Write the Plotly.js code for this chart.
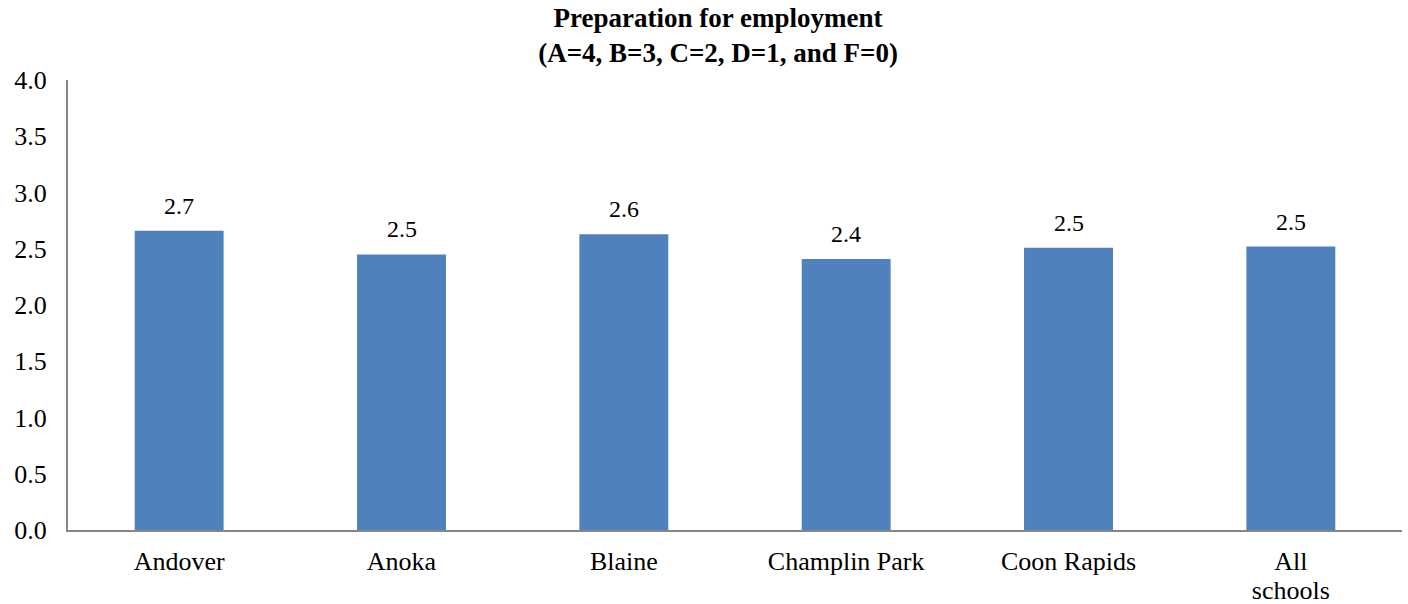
<!DOCTYPE html>
<html>
<head>
<meta charset="utf-8">
<script src="https://cdn.plot.ly/plotly-3.0.1.min.js"></script>
<style>html,body{margin:0;padding:0;background:#fff;}#chart{width:1408px;height:604px;}</style>
</head>
<body>
<div id="chart"></div>
<script>
const categories = ["Andover", "Anoka", "Blaine", "Champlin Park", "Coon Rapids", "All<br>schools"];
const values = [2.66, 2.45, 2.63, 2.41, 2.51, 2.52];
const valueLabels = ["2.7", "2.5", "2.6", "2.4", "2.5", "2.5"];
const yTicks = [0, 0.5, 1, 1.5, 2, 2.5, 3, 3.5, 4];
const titleLines = ["Preparation for employment", "(A=4, B=3, C=2, D=1, and F=0)"];

const font = "'Liberation Serif', 'Times New Roman', serif";

const annotations = categories.map((c, i) => ({
  x: c, y: values[i], xref: "x", yref: "y",
  text: valueLabels[i], showarrow: false,
  xanchor: "center", yanchor: "bottom", yshift: 10,
  font: {family: font, size: 24, color: "#000"}
}));

const tickText = categories.map(c =>
  c.split("<br>").map(p => '<span style="font-size:26px">' + p + '</span>').join("<br>"));

const titleText = titleLines.map(t => '<b>' + t + '</b>').join("<br>");

Plotly.newPlot("chart", [{
  type: "bar",
  x: categories,
  y: values,
  marker: {color: "#4F81BD"},
  hoverinfo: "none"
}], {
  width: 1408,
  height: 604,
  margin: {l: 68, r: 6, t: 80, b: 74},
  paper_bgcolor: "#fff",
  plot_bgcolor: "#fff",
  bargap: 0.6,
  font: {family: font, size: 26, color: "#000"},
  title: {
    text: titleText,
    font: {family: font, size: 27, color: "#000"},
    x: 0.51, xref: "container", xanchor: "center",
    y: 0.955, yref: "container", yanchor: "middle"
  },
  annotations: annotations,
  xaxis: {
    showline: true, linecolor: "#868686", linewidth: 2,
    ticks: "", showgrid: false, zeroline: false,
    tickmode: "array", tickvals: categories, ticktext: tickText,
    tickfont: {family: font, size: 22, color: "#000"},
    ticklabelstandoff: 12
  },
  yaxis: {
    range: [0, 4],
    tickvals: yTicks,
    tickformat: ".1f",
    showline: true, linecolor: "#868686", linewidth: 2,
    ticks: "", showgrid: false, zeroline: false,
    tickfont: {family: font, size: 26, color: "#000"},
    ticklabelstandoff: 14
  },
  showlegend: false
}, {staticPlot: true});
</script>
</body>
</html>
